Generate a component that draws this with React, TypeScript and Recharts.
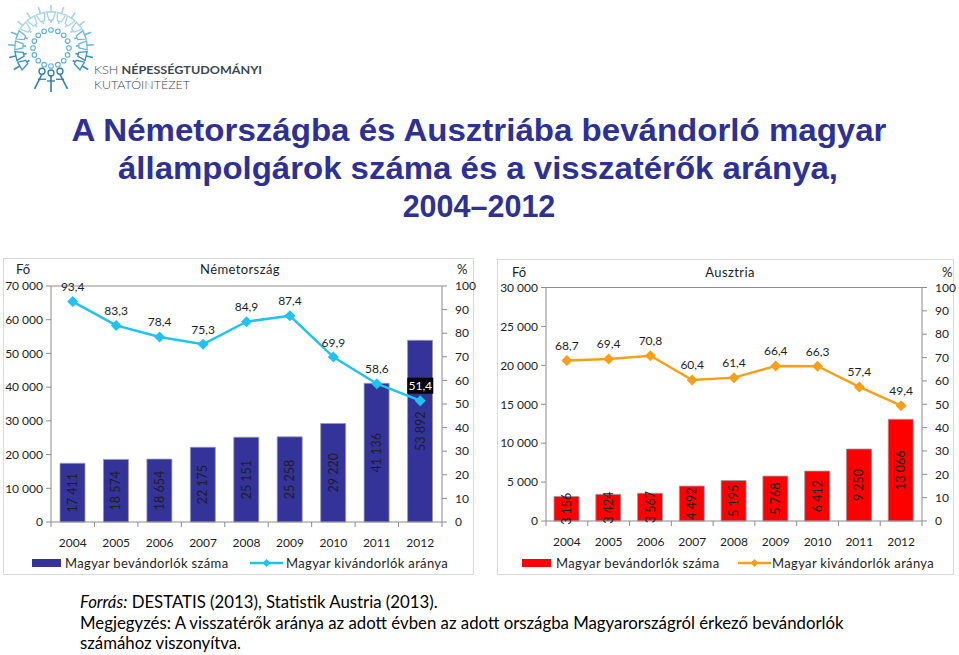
import React from 'react';
import { ComposedChart, Bar, Line, XAxis, YAxis, LabelList, Legend, ReferenceLine } from 'recharts';

// ---------- data ----------
const years = ['2004', '2005', '2006', '2007', '2008', '2009', '2010', '2011', '2012'];
const deImmigrants = [17411, 18574, 18654, 22175, 25151, 25258, 29220, 41136, 53892];
const deReturnRate = [93.4, 83.3, 78.4, 75.3, 84.9, 87.4, 69.9, 58.6, 51.4];
const atImmigrants = [3156, 3424, 3567, 4492, 5195, 5768, 6412, 9250, 13066];
const atReturnRate = [68.7, 69.4, 70.8, 60.4, 61.4, 66.4, 66.3, 57.4, 49.4];
const deLeftTicks = [0, 10000, 20000, 30000, 40000, 50000, 60000, 70000];
const atLeftTicks = [0, 5000, 10000, 15000, 20000, 25000, 30000];
const pctTicks = [0, 10, 20, 30, 40, 50, 60, 70, 80, 90, 100];
const barLegend = 'Magyar bevándorlók száma';
const lineLegend = 'Magyar kivándorlók aránya';
const deTitle = 'Németország';
const atTitle = 'Ausztria';
const deHighlightLabel = 8;

const deData = years.map((y, i) => ({ year: y, immigrants: deImmigrants[i], rate: deReturnRate[i] }));
const atData = years.map((y, i) => ({ year: y, immigrants: atImmigrants[i], rate: atReturnRate[i] }));

// ---------- style ----------
const FONT = 'Lato, "Open Sans", sans-serif';
const AXIS = '#8c8c8c';
const TXT = '#1e1e1e';
const TITLE_BLUE = '#2E3192';

const thousands = (v: number) => String(v).replace(/\B(?=(\d{3})+(?!\d))/g, ' ');
const comma = (v: number) => v.toFixed(1).replace('.', ',');

function Diamond({ cx, cy, r, fill }: any) {
  return <polygon points={`${cx},${cy - r} ${cx + r},${cy} ${cx},${cy + r} ${cx - r},${cy}`} fill={fill} />;
}

const makeXTick = (band: number, count: number) => (props: any) => {
  const { x, y, payload, index } = props;
  return (
    <g>
      <line x1={x - band / 2} x2={x - band / 2} y1={y} y2={y + 5} stroke={AXIS} />
      {index === count - 1 && <line x1={x + band / 2} x2={x + band / 2} y1={y} y2={y + 5} stroke={AXIS} />}
      <text x={x} y={y + 25} textAnchor="middle" fontSize={12} fill={TXT} fontFamily={FONT}>{payload.value}</text>
    </g>
  );
};

const barLabel = (props: any) => {
  const { x, y, width, height, value } = props;
  const cx = x + width / 2;
  const cy = y + height / 2;
  return (
    <text x={cx} y={cy} transform={`rotate(-90 ${cx} ${cy})`} textAnchor="middle" dominantBaseline="central"
      fontSize={12.5} fill={TXT} fontFamily={FONT}>{thousands(value)}</text>
  );
};

const makeLineLabel = (highlight: number) => (props: any) => {
  const { x, y, value, index } = props;
  const ty = y - 15;
  const txt = comma(value);
  if (index === highlight) {
    return (
      <g>
        <rect x={x - 13} y={ty - 8} width={26} height={16} fill="#000" />
        <text x={x} y={ty} textAnchor="middle" dominantBaseline="central" fontSize={12} fill="#fff" fontFamily={FONT}>{txt}</text>
      </g>
    );
  }
  return <text x={x} y={ty} textAnchor="middle" dominantBaseline="central" fontSize={12} fill={TXT} fontFamily={FONT}>{txt}</text>;
};

interface ChartProps {
  left: number; top: number; width: number; height: number;
  data: any[]; leftTicks: number[]; barColor: string; lineColor: string;
  margin: any; leftW: number; xH: number; title: string; highlight: number;
  legendPos: number[]; titleX: number; foX: number; pctX: number;
}

function CountryChart(p: ChartProps) {
  const plotW = p.width - p.margin.left - p.margin.right - p.leftW - 30;
  const band = plotW / p.data.length;
  const maxY = p.leftTicks[p.leftTicks.length - 1];
  const [sx, tx, lx, ltx] = p.legendPos;
  const legendContent = () => (
    <svg width={p.width} height={20} style={{ display: 'block' }}>
      <rect x={sx} y={6} width={29} height={8} fill={p.barColor} />
      <text x={tx} y={15} fontSize={13} fill={TXT} fontFamily={FONT} letterSpacing={0.35}>{barLegend}</text>
      <line x1={lx} x2={lx + 33} y1={10} y2={10} stroke={p.lineColor} strokeWidth={2.5} />
      <Diamond cx={lx + 16.5} cy={10} r={4} fill={p.lineColor} />
      <text x={ltx} y={15} fontSize={13} fill={TXT} fontFamily={FONT} letterSpacing={0.35}>{lineLegend}</text>
    </svg>
  );
  return (
    <div style={{ position: 'absolute', left: p.left, top: p.top, width: p.width, height: p.height }}>
      <div style={{ position: 'absolute', left: p.foX, top: 6, fontFamily: FONT, fontSize: 13, color: TXT }}>Fő</div>
      <div style={{ position: 'absolute', left: p.titleX - 100, width: 200, textAlign: 'center', top: 6, fontFamily: FONT, fontSize: 13, color: TXT, letterSpacing: 0.4 }}>{p.title}</div>
      <div style={{ position: 'absolute', left: p.pctX, top: 6, fontFamily: FONT, fontSize: 13, color: TXT }}>%</div>
      <ComposedChart width={p.width} height={p.height} data={p.data} margin={p.margin}>
        <XAxis dataKey="year" interval={0} tickSize={0} tickMargin={0} tickLine={false}
          axisLine={{ stroke: AXIS }} height={p.xH} tick={makeXTick(band, p.data.length)} />
        <YAxis yAxisId="left" orientation="left" width={p.leftW} domain={[0, maxY]} ticks={p.leftTicks} interval={0}
          tickFormatter={thousands} tickSize={5} tickMargin={3} axisLine={{ stroke: AXIS }} tickLine={{ stroke: AXIS }}
          tick={{ fontSize: 12, fill: TXT, fontFamily: FONT }} />
        <YAxis yAxisId="right" orientation="right" width={30} domain={[0, 100]} ticks={pctTicks} interval={0}
          tickSize={5} tickMargin={8} axisLine={{ stroke: AXIS }} tickLine={{ stroke: AXIS }}
          tick={{ fontSize: 12, fill: TXT, fontFamily: FONT, textAnchor: 'start' }} />
        <ReferenceLine yAxisId="left" y={maxY} stroke={AXIS} />
        <Legend verticalAlign="bottom" content={legendContent} wrapperStyle={{ left: 0, width: p.width, height: 20 }} />
        <Bar yAxisId="left" dataKey="immigrants" fill={p.barColor} stroke="#9a9aae" strokeWidth={0.8} barSize={25} isAnimationActive={false}>
          <LabelList dataKey="immigrants" content={barLabel} />
        </Bar>
        <Line yAxisId="right" dataKey="rate" stroke={p.lineColor} strokeWidth={2.5} isAnimationActive={false}
          dot={(d: any) => <Diamond key={d.index} cx={d.cx} cy={d.cy} r={5.5} fill={p.lineColor} />}
          activeDot={false}>
          <LabelList dataKey="rate" content={makeLineLabel(p.highlight)} />
        </Line>
      </ComposedChart>
    </div>
  );
}

function Logo() {
  const cx = 51, cy = 48;
  const rays: any[] = [];
  const n = 15;
  for (let k = 0; k < n; k++) {
    const deg = 150 + k * (240 / (n - 1));
    const a = (deg * Math.PI) / 180;
    const c = Math.cos(a), s = Math.sin(a);
    const up = -s;
    const col = up > 0.6 ? '#a8d2e6' : up > 0 ? '#6fb6d6' : '#3b8fb8';
    const r1 = 25, r2 = 43, rm = 32;
    const px = -s, py = c;
    const w1 = 2, w2 = 4.5;
    const pts = [
      [cx + c * (rm - 4) + px * w1, cy + s * (rm - 4) + py * w1],
      [cx + c * (rm + 4) + px * w2, cy + s * (rm + 4) + py * w2],
      [cx + c * (rm + 4) - px * w2, cy + s * (rm + 4) - py * w2],
      [cx + c * (rm - 4) - px * w1, cy + s * (rm - 4) - py * w1],
    ];
    rays.push(
      <g key={k}>
        <line x1={cx + c * r1} y1={cy + s * r1} x2={cx + c * r2} y2={cy + s * r2} stroke={col} strokeWidth={1.6} />
        <polygon points={pts.map((q) => q.join(',')).join(' ')} fill="#fff" stroke={col} strokeWidth={1.3} />
      </g>
    );
  }
  const dots: any[] = [];
  for (let k = 0; k < 16; k++) {
    const a = (k / 16) * Math.PI * 2;
    dots.push(<circle key={k} cx={cx + Math.cos(a) * 18} cy={cy + Math.sin(a) * 18} r={2.3} fill="#fff" stroke="#5eaed2" strokeWidth={1.1} />);
  }
  const figs = [68, 90, 112].map((deg, k) => {
    const a = (deg * Math.PI) / 180;
    const x1 = cx + Math.cos(a) * 24, y1 = cy + Math.sin(a) * 24;
    const x2 = cx + Math.cos(a) * 44, y2 = cy + Math.sin(a) * 44;
    return (
      <g key={k}>
        <circle cx={x1} cy={y1 + 1} r={3} fill="none" stroke="#2d7ea8" strokeWidth={1.3} />
        <line x1={x1} y1={y1 + 4} x2={x2} y2={y2} stroke="#2d7ea8" strokeWidth={1.6} />
        <line x1={x1 - 4} y1={y1 + 9} x2={x1 + 4} y2={y1 + 9} stroke="#2d7ea8" strokeWidth={1.3} />
      </g>
    );
  });
  return (
    <g>
      {rays}
      {dots}
      {figs}
      <text x={94} y={74} fontSize={11.5} fontFamily={FONT} fill="#3b4754" textLength={168} lengthAdjust="spacingAndGlyphs">
        <tspan fontWeight={300}>KSH </tspan><tspan fontWeight={700}>NÉPESSÉGTUDOMÁNYI</tspan>
      </text>
      <text x={94} y={89} fontSize={11.5} fontFamily={FONT} fill="#3b4754" fontWeight={300} textLength={96} lengthAdjust="spacingAndGlyphs">KUTATÓINTÉZET</text>
    </g>
  );
}

export default function App() {
  return (
    <div style={{ position: 'absolute', left: 0, top: 0, width: 959, height: 655, background: '#fff', overflow: 'hidden' }}>
      <svg width={959} height={655} style={{ position: 'absolute', left: 0, top: 0 }}>
        <Logo />
        <g fontFamily='"Liberation Sans", Arial, sans-serif' fontWeight={700} fontSize={30.5} fill={TITLE_BLUE} textAnchor="middle">
          <text x={479} y={141} textLength={815} lengthAdjust="spacingAndGlyphs">A Németországba és Ausztriába bevándorló magyar</text>
          <text x={478} y={179} textLength={720} lengthAdjust="spacingAndGlyphs">állampolgárok száma és a visszatérők aránya,</text>
          <text x={479} y={217}>2004–2012</text>
        </g>
        <rect x={3.5} y={258.5} width={470} height={316} fill="none" stroke="#d9d9d9" />
        <rect x={497.5} y={259.5} width={456} height={315} fill="none" stroke="#d9d9d9" />
        <g fontFamily={FONT} fontSize={16.8} fill="#000">
          <text x={80} y={608}><tspan fontStyle="italic">Forrás:</tspan> DESTATIS (2013), Statistik Austria (2013).</text>
          <text x={80} y={629}>Megjegyzés: A visszatérők aránya az adott évben az adott országba Magyarországról érkező bevándorlók</text>
          <text x={80} y={649}>számához viszonyítva.</text>
        </g>
      </svg>
      <CountryChart left={0} top={255} width={480} height={320} data={deData} leftTicks={deLeftTicks}
        barColor="#333399" lineColor="#1FC3EE" margin={{ top: 31, right: 8, bottom: 2, left: 0 }} leftW={51} xH={31}
        title={deTitle} highlight={deHighlightLabel} legendPos={[32, 65, 250, 286]} titleX={240} foX={16} pctX={457} />
      <CountryChart left={497} top={258} width={460} height={318} data={atData} leftTicks={atLeftTicks}
        barColor="#FF0000" lineColor="#F5A01A" margin={{ top: 29.5, right: 5, bottom: 3, left: 0 }} leftW={49} xH={32}
        title={atTitle} highlight={-1} legendPos={[25, 59, 241, 275]} titleX={233} foX={15} pctX={445} />
    </div>
  );
}
